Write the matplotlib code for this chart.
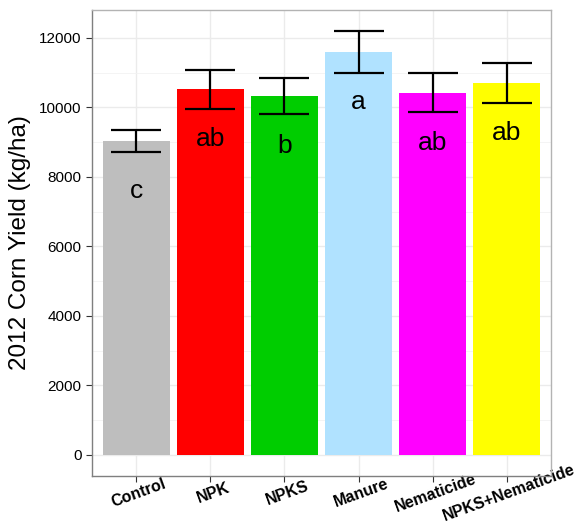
import numpy as np
import matplotlib.pyplot as plt
import matplotlib.transforms as mtransforms
from matplotlib.ticker import MultipleLocator

plt.rcParams['font.family'] = ['Liberation Sans', 'DejaVu Sans']

treatments = ['Control', 'NPK', 'NPKS', 'Manure', 'Nematicide', 'NPKS+Nematicide']
yield_mean = [9030, 10520, 10330, 11600, 10425, 10710]
yield_se = [320, 570, 525, 595, 560, 580]
letters = ['c', 'ab', 'b', 'a', 'ab', 'ab']
colors = ['#BEBEBE', '#FF0000', '#00CD00', '#B0E2FF', '#FF00FF', '#FFFF00']

fig = plt.figure(figsize=(5.81, 5.27), dpi=100)
ax = fig.add_axes([92 / 581, 51 / 527, 459 / 581, 466 / 527])

x = np.arange(1, len(treatments) + 1)
ax.bar(x, yield_mean, width=0.9, color=colors, zorder=2)
ax.errorbar(x, yield_mean, yerr=yield_se, fmt='none', ecolor='black',
            elinewidth=1.6, capsize=18, capthick=1.6, zorder=3)
# letters sit a fixed distance below the bar top
for xi, m, lab in zip(x, yield_mean, letters):
    ax.text(xi, m - 1640, lab, ha='center', va='baseline', fontsize=19, zorder=4)

top = max(m + s for m, s in zip(yield_mean, yield_se))
pad = 0.05 * top
ax.set_ylim(-pad, top + pad)
ax.set_xlim(0.4, len(treatments) + 0.6)

ax.yaxis.set_major_locator(MultipleLocator(2000))
ax.yaxis.set_minor_locator(MultipleLocator(1000))
ax.set_xticks(x)
ax.set_xticklabels(treatments, rotation=20, ha='center', va='top',
                   rotation_mode='anchor', fontweight='bold', fontsize=11.5)
shift = mtransforms.ScaledTranslation(-5 / 100, 0, fig.dpi_scale_trans)
for lbl in ax.get_xticklabels():
    lbl.set_transform(lbl.get_transform() + shift)
ax.tick_params(axis='y', labelsize=11, colors='#333333', labelcolor='black', length=4)
ax.tick_params(axis='y', which='minor', length=0)
ax.tick_params(axis='x', colors='#333333', labelcolor='black', length=4, pad=3)

ax.grid(True, which='major', color='#EBEBEB', linewidth=1.0, zorder=0)
ax.grid(True, which='minor', axis='y', color='#F2F2F2', linewidth=0.6, zorder=0)
ax.set_axisbelow(True)
for sp in ax.spines.values():
    sp.set_color('#B3B3B3')
    sp.set_linewidth(1.0)
ax.spines['left'].set_color('#7F7F7F')
ax.spines['bottom'].set_color('#7F7F7F')

ax.set_ylabel('2012 Corn Yield (kg/ha)', fontsize=17.5, labelpad=6)

fig.savefig('out.png', dpi=100)
